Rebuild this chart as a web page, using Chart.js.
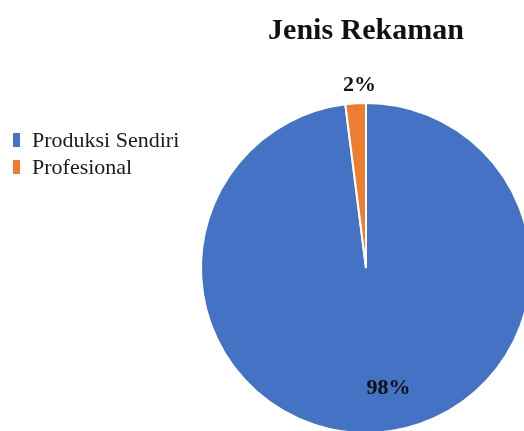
<!DOCTYPE html>
<html>
<head>
<meta charset="utf-8">
<script src="https://cdn.jsdelivr.net/npm/chart.js@4/dist/chart.umd.min.js"></script>
<style>
  html, body { margin: 0; padding: 0; background: #fff; overflow: hidden; }
  #wrap { position: relative; width: 524px; height: 431px; overflow: hidden; }
  canvas { position: absolute; left: 0; top: 0; }
</style>
</head>
<body>
<div id="wrap">
  <canvas id="pie" width="600" height="480"></canvas>
</div>
<script>
var title = "Jenis Rekaman"
var categories = ["Produksi Sendiri", "Profesional"]
var values = [98, 2]
var colors = ["#4472C4", "#ED7D31"]

// where each percent label sits: fraction of radius out from centre, plus a nudge
var labelPos = [
  { dist: 0.73, dx: 15, dy: 0 },
  { dist: 1.11, dx: 5, dy: 0 }
]

var serif = "'Liberation Serif', 'Times New Roman', serif"

const extras = {
  id: "extras",
  afterDatasetsDraw(chart) {
    const ctx = chart.ctx
    const meta = chart.getDatasetMeta(0)
    const total = values.reduce((a, b) => a + b, 0)

    ctx.save()
    ctx.fillStyle = "#111"
    ctx.font = "bold 22px " + serif
    ctx.textAlign = "center"
    ctx.textBaseline = "middle"
    meta.data.forEach((arc, i) => {
      const mid = (arc.startAngle + arc.endAngle) / 2
      const r = arc.outerRadius * labelPos[i].dist
      const x = arc.x + Math.cos(mid) * r + labelPos[i].dx
      const y = arc.y + Math.sin(mid) * r + labelPos[i].dy
      ctx.fillText(Math.round(values[i] / total * 100) + "%", x, y)
    })

    // title
    const ca = chart.chartArea
    ctx.font = "bold 30px " + serif
    ctx.textBaseline = "alphabetic"
    ctx.fillText(title, (ca.left + ca.right) / 2, 39)

    // legend
    ctx.textAlign = "left"
    ctx.font = "22px " + serif
    categories.forEach((c, i) => {
      const base = 147 + i * 27
      ctx.fillStyle = colors[i]
      ctx.fillRect(13, base - 14, 7, 14)
      ctx.fillStyle = "#1a1a1a"
      ctx.fillText(c, 32, base)
    })
    ctx.restore()
  }
}

new Chart(document.getElementById("pie"), {
  type: "pie",
  data: {
    labels: categories,
    datasets: [
      {
        data: values,
        backgroundColor: colors,
        borderColor: "#ffffff",
        borderWidth: 2,
        hoverOffset: 0,
      },
    ],
  },
  options: {
    responsive: false,
    animation: false,
    devicePixelRatio: 1,
    layout: {
      padding: { left: 200, right: 68, top: 102, bottom: 46 },
    },
    plugins: {
      legend: { display: false },
      tooltip: { enabled: false },
    },
  },
  plugins: [extras],
});
</script>
</body>
</html>
